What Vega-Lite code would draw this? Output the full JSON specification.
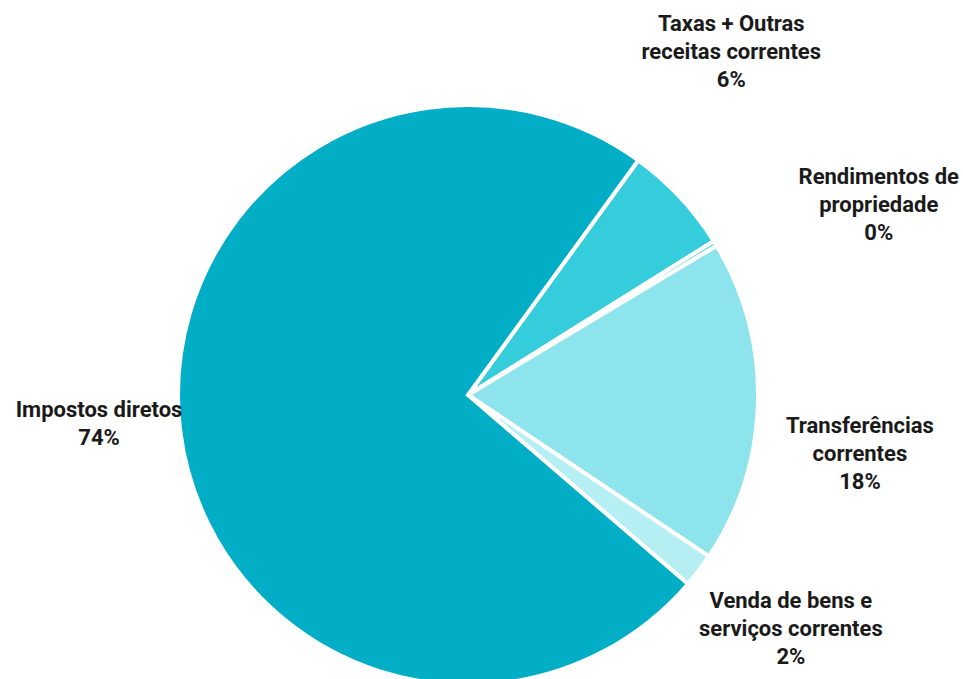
{
  "$schema": "https://vega.github.io/schema/vega-lite/v6.json",
  "autosize": "none",
  "width": 936,
  "height": 568,
  "padding": {"top": 111, "left": 0, "right": 27, "bottom": 0},
  "background": "white",
  "config": {"view": {"stroke": null}},
  "data": {
    "values": [
      {"ord": 1, "cat": "Taxas + Outras receitas correntes", "value": 6.1, "label": "Taxas + Outras\nreceitas correntes\n6%"},
      {"ord": 2, "cat": "Rendimentos de propriedade", "value": 0.3, "label": "Rendimentos de\npropriedade\n0%"},
      {"ord": 3, "cat": "Transferências correntes", "value": 18.0, "label": "Transferências\ncorrentes\n18%"},
      {"ord": 4, "cat": "Venda de bens e serviços correntes", "value": 1.9, "label": "Venda de bens e\nserviços correntes\n2%"},
      {"ord": 5, "cat": "Impostos diretos", "value": 73.7, "label": "Impostos diretos\n74%"}
    ]
  },
  "encoding": {
    "theta": {"field": "value", "type": "quantitative", "stack": true, "scale": {"range": [0.628, 6.911]}},
    "order": {"field": "ord", "type": "quantitative"}
  },
  "layer": [
    {
      "mark": {"type": "arc", "outerRadius": 290, "stroke": "white", "strokeWidth": 4},
      "encoding": {
        "color": {
          "field": "cat", "type": "nominal", "legend": null,
          "scale": {
            "domain": ["Taxas + Outras receitas correntes", "Rendimentos de propriedade", "Transferências correntes", "Venda de bens e serviços correntes", "Impostos diretos"],
            "range": ["#35CCDC", "#5FD8E4", "#8EE4EC", "#B5EEF3", "#02ADC6"]
          }
        }
      }
    },
    {
      "mark": {"type": "text", "radius": 300, "dx": 44, "dy": -166, "font": "Roboto", "fontWeight": "bold", "fontSize": 22, "lineHeight": 28, "lineBreak": "\n", "align": "center", "baseline": "middle", "color": "#1a1a1a"},
      "encoding": {"text": {"condition": {"test": "datum.ord === 1", "field": "label"}, "value": ""}}
    },
    {
      "mark": {"type": "text", "radius": 300, "dx": 155, "dy": -61, "font": "Roboto", "fontWeight": "bold", "fontSize": 22, "lineHeight": 28, "lineBreak": "\n", "align": "center", "baseline": "middle", "color": "#1a1a1a"},
      "encoding": {"text": {"condition": {"test": "datum.ord === 2", "field": "label"}, "value": ""}}
    },
    {
      "mark": {"type": "text", "radius": 300, "dx": 92, "dy": 24, "font": "Roboto", "fontWeight": "bold", "fontSize": 22, "lineHeight": 28, "lineBreak": "\n", "align": "center", "baseline": "middle", "color": "#1a1a1a"},
      "encoding": {"text": {"condition": {"test": "datum.ord === 3", "field": "label"}, "value": ""}}
    },
    {
      "mark": {"type": "text", "radius": 300, "dx": 84, "dy": 24, "font": "Roboto", "fontWeight": "bold", "fontSize": 22, "lineHeight": 28, "lineBreak": "\n", "align": "center", "baseline": "middle", "color": "#1a1a1a"},
      "encoding": {"text": {"condition": {"test": "datum.ord === 4", "field": "label"}, "value": ""}}
    },
    {
      "mark": {"type": "text", "radius": 300, "dx": -71, "dy": -20, "font": "Roboto", "fontWeight": "bold", "fontSize": 22, "lineHeight": 28, "lineBreak": "\n", "align": "center", "baseline": "middle", "color": "#1a1a1a"},
      "encoding": {"text": {"condition": {"test": "datum.ord === 5", "field": "label"}, "value": ""}}
    }
  ]
}
